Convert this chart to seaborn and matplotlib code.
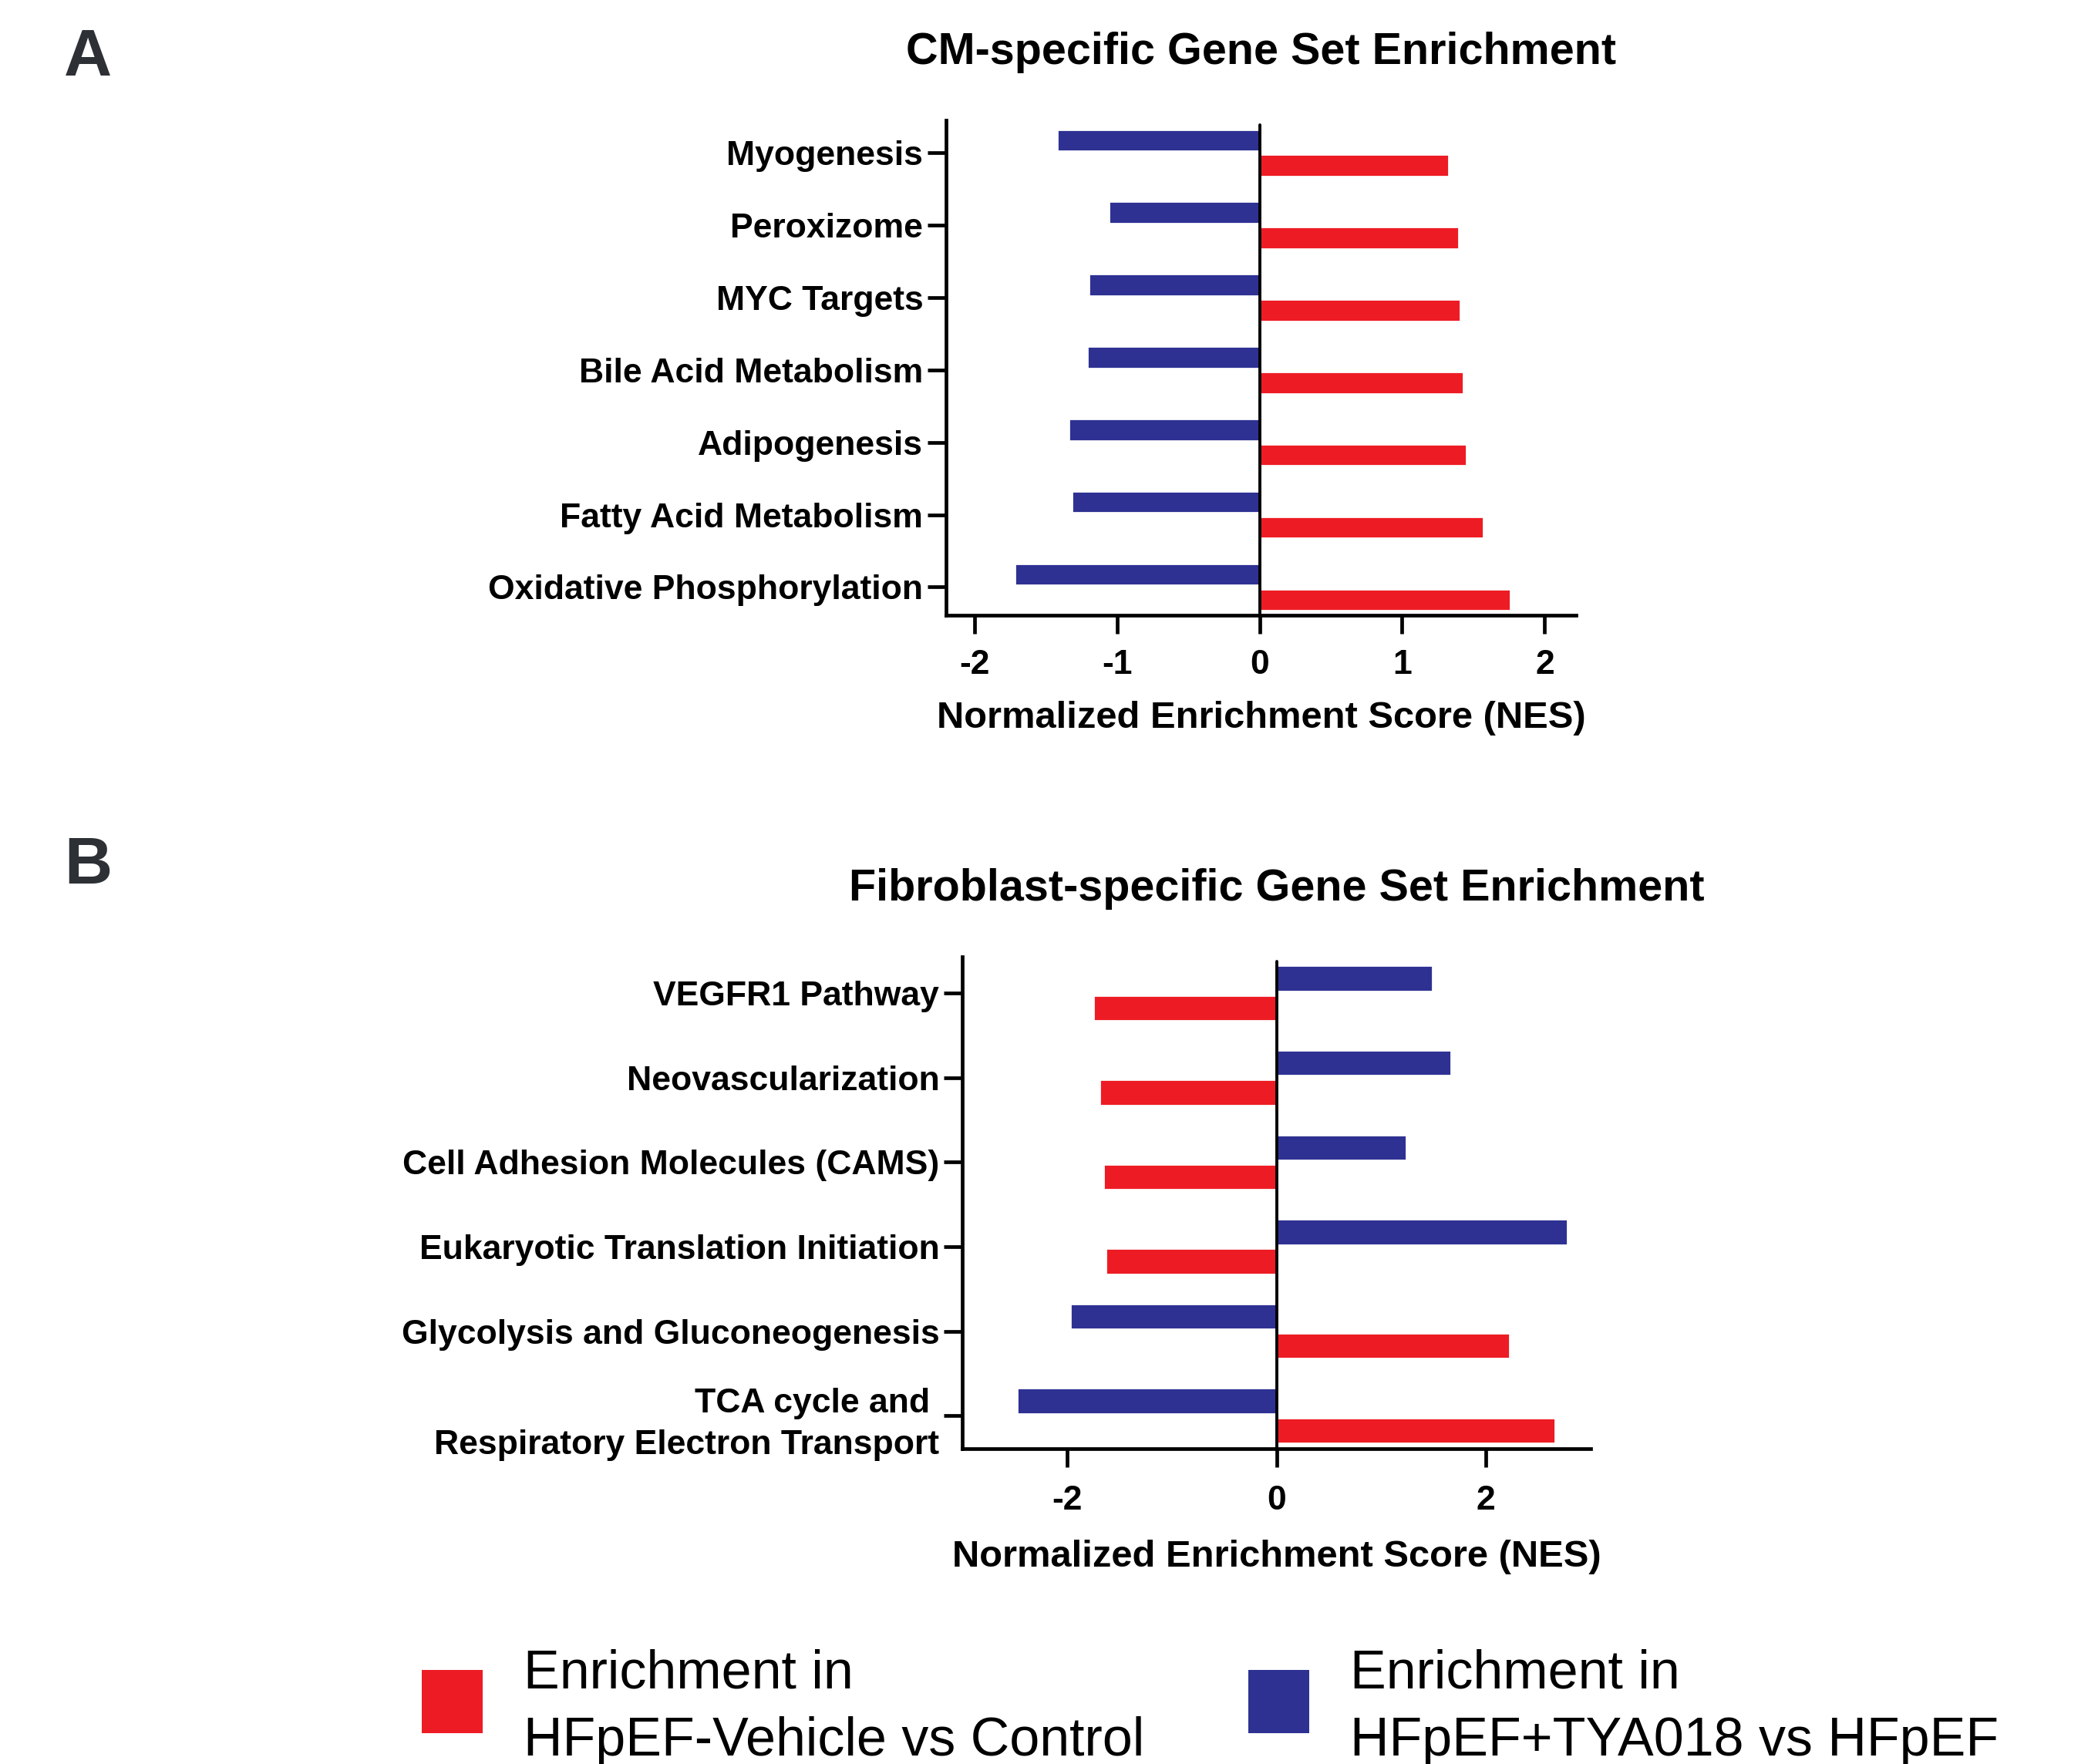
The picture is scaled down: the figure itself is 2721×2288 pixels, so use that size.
import matplotlib
matplotlib.use("Agg")
import matplotlib.pyplot as plt
from matplotlib.patches import Rectangle
import seaborn as sns
import pandas as pd

sns.set_theme(style="ticks")
plt.rcParams["font.family"] = ["Liberation Sans", "DejaVu Sans"]
plt.rcParams["axes.unicode_minus"] = False
plt.rcParams["text.color"] = "black"

RED = "#ED1C24"
BLUE = "#2E3192"
SER_VEH = "HFpEF-Vehicle vs Control"
SER_TYA = "HFpEF+TYA018 vs HFpEF"

# Cardiomyocyte gene sets (top to bottom)
cm_terms = ["Myogenesis", "Peroxizome", "MYC Targets", "Bile Acid Metabolism",
            "Adipogenesis", "Fatty Acid Metabolism", "Oxidative Phosphorylation"]
cm_vehicle = [1.33, 1.40, 1.41, 1.43, 1.45, 1.57, 1.76]
cm_tya = [-1.42, -1.06, -1.20, -1.21, -1.34, -1.32, -1.72]
cm_xticks = [-2, -1, 0, 1, 2]

# Fibroblast gene sets (top to bottom)
fb_terms = ["VEGFR1 Pathway", "Neovascularization", "Cell Adhesion Molecules (CAMS)",
            "Eukaryotic Translation Initiation", "Glycolysis and Gluconeogenesis",
            "TCA cycle and \nRespiratory Electron Transport"]
fb_vehicle = [-1.75, -1.69, -1.65, -1.63, 2.23, 2.66]
fb_tya = [1.49, 1.67, 1.24, 2.78, -1.97, -2.48]
fb_xticks = [-2, 0, 2]

W, H = 2721, 2288
fig = plt.figure(figsize=(W / 200, H / 200), dpi=200)


def fx(px):
    return px / W


def fy(py):
    return 1 - py / H


def panel(ax, terms, veh, tya, xlim, xticks, ylim, xlabel_y, xpad):
    df = pd.DataFrame({
        "term": terms * 2,
        "nes": tya + veh,
        "series": [SER_TYA] * len(terms) + [SER_VEH] * len(terms),
    })
    sns.barplot(data=df, x="nes", y="term", hue="series",
                hue_order=[SER_TYA, SER_VEH],
                palette={SER_TYA: BLUE, SER_VEH: RED},
                order=terms, orient="h", width=0.7, gap=0.13,
                errorbar=None, legend=False, saturation=1, ax=ax)
    ax.axvline(0, color="black", lw=1.4, ymax=0.99, zorder=3)
    for side in ("top", "right"):
        ax.spines[side].set_visible(False)
    for side in ("left", "bottom"):
        ax.spines[side].set_linewidth(1.7)
        ax.spines[side].set_color("black")
    ax.set_xlim(*xlim)
    ax.set_ylim(*ylim)
    ax.set_xticks(xticks)
    ax.set_xticklabels([str(t) for t in xticks])
    ax.tick_params(axis="both", length=8.5, width=1.7, color="black",
                   labelsize=16, labelcolor="black", direction="out")
    ax.tick_params(axis="y", pad=2.2)
    ax.tick_params(axis="x", pad=xpad)
    for t in ax.get_xticklabels() + ax.get_yticklabels():
        t.set_fontweight("bold")
        t.set_linespacing(1.42)
    ax.set_ylabel("")
    ax.set_xlabel("Normalized Enrichment Score (NES)", fontsize=17.6,
                  fontweight="bold", color="black")
    ax.xaxis.set_label_coords(0.5, xlabel_y)
    ax.xaxis.label.set_va("baseline")
    ax.grid(False)


axA = fig.add_axes([fx(1227), fy(798), fx(2044) - fx(1227), fy(156) - fy(798)])
panel(axA, cm_terms, cm_vehicle, cm_tya, (-2.2, 2.22), cm_xticks,
      (6.39, -0.45), -0.2275, 7.4)

axB = fig.add_axes([fx(1248), fy(1879), fx(2063) - fx(1248), fy(1241) - fy(1879)])
panel(axB, fb_terms, fb_vehicle, fb_tya, (-3, 3), fb_xticks,
      (5.39, -0.43), -0.2398, 8.3)

# Panel titles
fig.text(fx((1227 + 2044) / 2), fy(83), "CM-specific Gene Set Enrichment",
         ha="center", va="baseline", fontsize=20.7, fontweight="bold", color="black")
fig.text(fx((1248 + 2063) / 2), fy(1168), "Fibroblast-specific Gene Set Enrichment",
         ha="center", va="baseline", fontsize=20.7, fontweight="bold", color="black")

# Panel letters
fig.text(fx(83), fy(98), "A", ha="left", va="baseline", fontsize=31,
         fontweight="bold", color="#2D3035")
fig.text(fx(83), fy(1146), "B", ha="left", va="baseline", fontsize=31,
         fontweight="bold", color="#2D3035")

# Shared legend
for x0, col, label in ((547, RED, SER_VEH), (1619, BLUE, SER_TYA)):
    fig.add_artist(Rectangle((fx(x0), fy(2248)), fx(79), 82 / H,
                             transform=fig.transFigure, color=col, lw=0))
    fig.text(fx(x0 + 132), fy(2190), "Enrichment in", ha="left", va="baseline",
             fontsize=25.2, color="black")
    fig.text(fx(x0 + 132), fy(2277), label, ha="left", va="baseline",
             fontsize=25.2, color="black")

fig.savefig("out.png", dpi=200, facecolor="white")
